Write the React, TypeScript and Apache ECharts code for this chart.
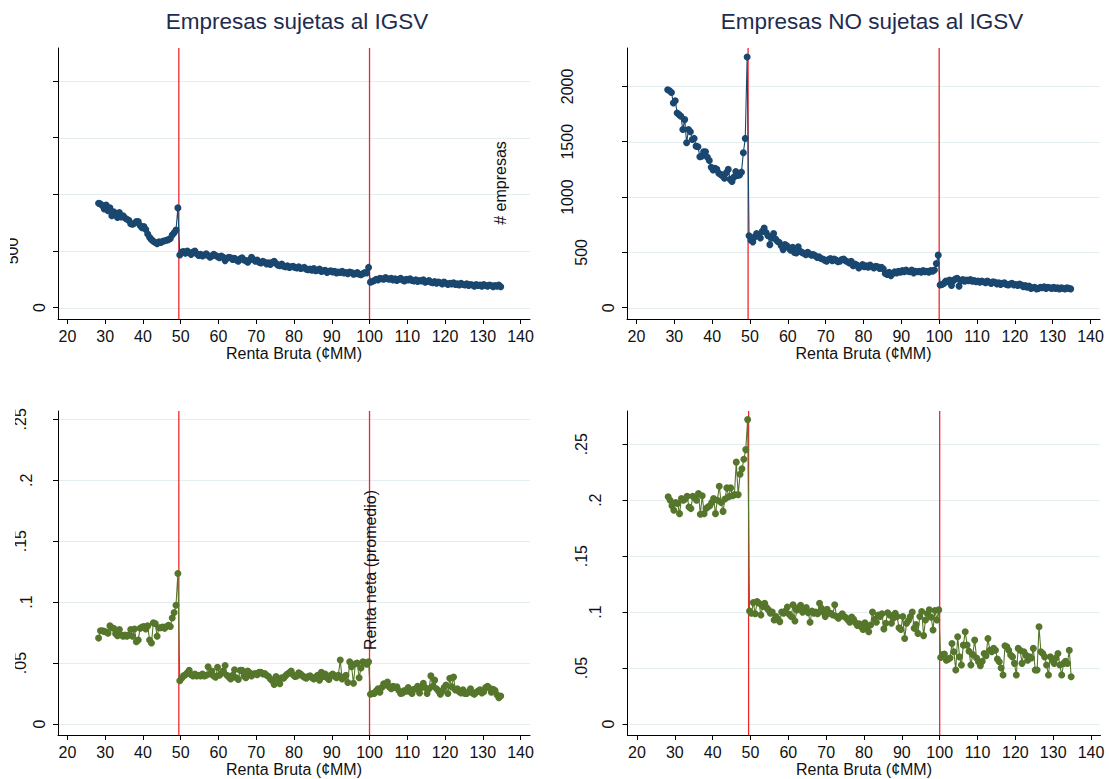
import React, { useEffect, useRef } from "react";
import * as echarts from "echarts";

// ---------- data ----------
const binStart = 28.25; // first bin of Renta Bruta (¢MM)
const binWidth = 0.5;
const xTicks = [20, 30, 40, 50, 60, 70, 80, 90, 100, 110, 120, 130, 140];
const thresholds = [49.5, 100];

const countTicks = [0, 500, 1000, 1500, 2000];
const countTickLabels = ["0", "500", "1000", "1500", "2000"];
const rentaTicks = [0, 0.05, 0.1, 0.15, 0.2, 0.25];
const rentaTickLabels = ["0", ".05", ".1", ".15", ".2", ".25"];

// # empresas — sujetas al IGSV
const empresasSujetas = [
  920, 915, 900, 870, 905, 855, 880, 810, 845, 830, 795, 840, 800, 810, 790, 780, 770, 740, 735, 745,
  760, 760, 725, 705, 715, 690, 650, 620, 600, 585, 575, 565, 580, 575, 585, 590, 595, 600, 610, 640,
  660, 685, 880,
  465, 490, 495, 480, 500, 485, 470, 490, 500, 475,
  460, 470, 455, 465, 475, 460, 445, 455, 470, 460,
  450, 440, 455, 445, 415, 435, 445, 440, 425, 435,
  420, 410, 430, 440, 420, 415, 400, 420, 445, 425,
  410, 420, 400, 395, 410, 400, 385, 395, 380, 400,
  410, 390, 375, 370, 385, 365, 360, 370, 355, 360,
  365, 355, 350, 360, 345, 350, 355, 340, 335, 340,
  330, 345, 325, 330, 340, 320, 325, 330, 310, 320,
  325, 315, 320, 305, 315, 310, 320, 305, 310, 300,
  315, 310, 295, 300, 310, 295, 290, 300, 310, 305,
  355,
  225, 230, 240, 250, 245, 260, 255, 250, 265, 255,
  250, 260, 245, 255, 240, 250, 260, 245, 235, 250,
  245, 255, 240, 235, 245, 230, 240, 235, 245, 225,
  230, 240, 225, 220, 230, 215, 225, 220, 210, 225,
  215, 205, 215, 210, 220, 205, 210, 200, 215, 205,
  200, 210, 195, 205, 200, 190, 205, 195, 200, 190,
  205, 195, 190, 200, 195, 185, 195, 190, 200, 185,
];

// # empresas — NO sujetas al IGSV
const empresasNoSujetas = [
  1970, 1960, 1945, 1850, 1870, 1760, 1745, 1730, 1610, 1700,
  1490, 1610, 1590, 1520, 1530, 1460, 1455, 1365, 1370, 1410,
  1410, 1360, 1330, 1270, 1245, 1260, 1250, 1215, 1205, 1190,
  1170, 1220, 1250, 1160, 1140, 1180, 1230, 1195, 1200, 1225,
  1400, 1530, 2265,
  650, 610, 595, 640, 670, 660, 630, 690, 720, 680,
  650, 570, 630, 670, 620, 600, 590, 560, 525, 570,
  560, 540, 520, 545, 500, 495, 550, 510, 500, 490,
  480, 500, 485, 475, 480, 470, 455, 460, 445, 440,
  430, 420, 435, 445, 425, 440, 430, 415, 420, 435,
  440, 425, 415, 405, 420, 380, 395, 385, 360, 375,
  390, 370, 380, 365, 385, 370, 360, 375, 370, 355,
  365, 350, 310, 300, 320, 290, 310, 325, 315, 330,
  320, 335, 325, 340, 330, 325, 340, 315, 330, 325,
  330, 320, 335, 325, 330, 320, 335, 330, 340, 400,
  475,
  205, 210, 220, 240, 235, 250, 200, 245, 260, 265,
  195, 245, 255, 240, 250, 245, 255, 240, 245, 235,
  240, 230, 240, 235, 225, 240, 230, 220, 235, 230,
  215, 225, 210, 220, 225, 210, 205, 215, 220, 205,
  210, 200, 215, 205, 190, 200, 185, 195, 175, 180,
  185, 170, 175, 185, 180, 190, 175, 185, 180, 175,
  185, 175, 180, 170, 180, 175, 170, 180, 175, 170,
];

// Renta neta (promedio) — sujetas al IGSV
const rentaSujetas = [
  0.0705, 0.0765, 0.0765, 0.076, 0.0755, 0.0745, 0.0805, 0.079, 0.0785, 0.074,
  0.0725, 0.0775, 0.073, 0.072, 0.073, 0.072, 0.073, 0.0775, 0.072, 0.078,
  0.0675, 0.069, 0.0785, 0.0795, 0.08, 0.078, 0.0805, 0.069, 0.0665, 0.083,
  0.0825, 0.072, 0.079, 0.079, 0.0795, 0.0785, 0.08, 0.081, 0.08, 0.087,
  0.0915, 0.0975, 0.1235,
  0.0355, 0.0375, 0.0395, 0.0405, 0.042, 0.044, 0.0405, 0.0395, 0.041, 0.0395,
  0.04, 0.0395, 0.041, 0.0395, 0.04, 0.047, 0.041, 0.0435, 0.0395, 0.0385,
  0.0465, 0.04, 0.0415, 0.0435, 0.048, 0.04, 0.0385, 0.037, 0.04, 0.0445,
  0.038, 0.0365, 0.044, 0.044, 0.0395, 0.038, 0.0435, 0.042, 0.0395, 0.041,
  0.0415, 0.0405, 0.0425, 0.0425, 0.041, 0.0415, 0.04, 0.039, 0.037, 0.0355,
  0.0325, 0.039, 0.037, 0.033, 0.038, 0.0375, 0.0395, 0.041, 0.042, 0.0435,
  0.0405, 0.039, 0.0395, 0.042, 0.041, 0.0395, 0.0385, 0.0375, 0.039, 0.0395,
  0.038, 0.037, 0.0385, 0.04, 0.036, 0.0425, 0.039, 0.041, 0.038, 0.0365,
  0.04, 0.041, 0.0395, 0.038, 0.04, 0.0525, 0.037, 0.0385, 0.04, 0.034,
  0.051, 0.047, 0.0335, 0.0495, 0.05, 0.038, 0.046, 0.051, 0.0505, 0.049,
  0.051,
  0.0245, 0.025, 0.025, 0.027, 0.029, 0.026, 0.03, 0.033, 0.032, 0.0345,
  0.0305, 0.029, 0.031, 0.03, 0.0305, 0.0275, 0.025, 0.0255, 0.0275, 0.027,
  0.03, 0.0265, 0.025, 0.0285, 0.029, 0.031, 0.0255, 0.03, 0.0335, 0.03,
  0.025, 0.029, 0.0395, 0.031, 0.036, 0.029, 0.027, 0.0245, 0.027, 0.03,
  0.032, 0.025, 0.0375, 0.0305, 0.0385, 0.028, 0.029, 0.0265, 0.0255, 0.028,
  0.025, 0.025, 0.0265, 0.029, 0.0255, 0.0245, 0.026, 0.027, 0.028, 0.0255,
  0.0265, 0.03, 0.031, 0.0295, 0.026, 0.0285, 0.0275, 0.024, 0.0215, 0.023,
];

// Renta neta (promedio) — NO sujetas al IGSV
const rentaNoSujetas = [
  0.203, 0.2, 0.195, 0.191, 0.198, 0.197, 0.188, 0.2015, 0.2, 0.201,
  0.2036, 0.194, 0.1925, 0.2036, 0.202, 0.2, 0.206, 0.1875, 0.204, 0.188,
  0.1925, 0.194, 0.195, 0.198, 0.2015, 0.188, 0.2, 0.2125, 0.198, 0.19,
  0.201, 0.211, 0.203, 0.211, 0.204, 0.205, 0.234, 0.205, 0.2232, 0.228,
  0.2366, 0.2452, 0.272,
  0.101, 0.099, 0.1085, 0.0985, 0.1095, 0.108, 0.0975, 0.105, 0.108, 0.104,
  0.102, 0.099, 0.1, 0.093, 0.096, 0.0935, 0.0915, 0.1, 0.099, 0.101,
  0.1045, 0.098, 0.096, 0.1065, 0.092, 0.102, 0.104, 0.106, 0.1, 0.103,
  0.104, 0.0995, 0.091, 0.101, 0.099, 0.1, 0.0985, 0.108, 0.1035, 0.1,
  0.096, 0.1025, 0.099, 0.099, 0.0975, 0.1065, 0.096, 0.0945, 0.0965, 0.0985,
  0.096, 0.095, 0.093, 0.091, 0.0955, 0.0935, 0.0905, 0.088, 0.0895, 0.087,
  0.0845, 0.0905, 0.086, 0.0825, 0.0885, 0.1, 0.0935, 0.091, 0.0975, 0.096,
  0.0985, 0.085, 0.09, 0.0995, 0.0975, 0.09, 0.0945, 0.099, 0.096, 0.086,
  0.0845, 0.096, 0.0765, 0.09, 0.0925, 0.096, 0.1, 0.0855, 0.089, 0.081,
  0.096, 0.1005, 0.079, 0.093, 0.0985, 0.102, 0.0955, 0.084, 0.1015, 0.093,
  0.102,
  0.0595, 0.062, 0.0625, 0.057, 0.058, 0.059, 0.072, 0.0646, 0.0482, 0.078,
  0.06, 0.0527, 0.0705, 0.0824, 0.0705, 0.065, 0.0527, 0.062, 0.075, 0.059,
  0.0557, 0.052, 0.056, 0.0631, 0.061, 0.0765, 0.066, 0.0646, 0.0676, 0.066,
  0.058, 0.0557, 0.05, 0.0438, 0.07, 0.069, 0.066, 0.0616, 0.06, 0.0542,
  0.0438, 0.0676, 0.066, 0.0542, 0.0646, 0.0616, 0.0571, 0.06, 0.059, 0.0676,
  0.0482, 0.0482, 0.0869, 0.0646, 0.0631, 0.06, 0.0527, 0.0438, 0.0601, 0.0571,
  0.0542, 0.059, 0.0631, 0.0527, 0.0438, 0.0542, 0.056, 0.0542, 0.066, 0.0423,
];

// ---------- styles / layout ----------
const FONT = "'Liberation Sans', Arial, Helvetica, sans-serif";
const NAVY = "#1a476f";
const GREEN = "#55762b";
const RED = "#f0282e";
const GRIDC = "#e4eef0";

const panels = [
  { grid: { left: 58, top: 48, width: 472, height: 271 }, values: empresasSujetas, color: NAVY, yMin: -100, yMax: 2290, ticks: countTicks, labels: countTickLabels, labelOffset: null as null | Record<number, number>, clipX: 10 },
  { grid: { left: 627, top: 48, width: 473, height: 271 }, values: empresasNoSujetas, color: NAVY, yMin: -102, yMax: 2347, ticks: countTicks, labels: countTickLabels, labelOffset: null, clipX: 0 },
  { grid: { left: 58, top: 411, width: 472, height: 324 }, values: rentaSujetas, color: GREEN, yMin: -0.009, yMax: 0.2568, ticks: rentaTicks, labels: rentaTickLabels, labelOffset: { 1: 19, 2: 32, 3: 38 }, clipX: 15 },
  { grid: { left: 627.5, top: 411, width: 473, height: 324 }, values: rentaNoSujetas, color: GREEN, yMin: -0.0098, yMax: 0.2797, ticks: rentaTicks, labels: rentaTickLabels, labelOffset: null, clipX: 0 },
];

export default function App() {
  const ref = useRef<HTMLDivElement>(null);

  useEffect(() => {
    if (!ref.current) return;
    const chart = echarts.init(ref.current, null, { renderer: "svg" });

    const grid = panels.map((p) => p.grid);
    const xAxis = panels.map((p, k) => ({
      type: "value",
      gridIndex: k,
      min: 17.5,
      max: 142.5,
      axisLine: { show: true, onZero: false, lineStyle: { color: "#000", width: 1 } },
      axisTick: { show: true, customValues: xTicks, length: 5, lineStyle: { color: "#000" } },
      axisLabel: { show: true, customValues: xTicks, margin: 9, fontSize: 16, color: "#111", fontFamily: FONT },
      splitLine: { show: false },
      name: "Renta Bruta (¢MM)",
      nameLocation: "middle",
      nameGap: 26,
      nameTextStyle: { fontSize: 16, color: "#111", fontFamily: FONT },
    }));
    const yAxis = panels.map((p, k) => ({
      type: "value",
      gridIndex: k,
      min: p.yMin,
      max: p.yMax,
      axisLine: { show: true, onZero: false, lineStyle: { color: "#000", width: 1 } },
      axisTick: { show: true, customValues: p.ticks, length: 5, lineStyle: { color: "#000" } },
      axisLabel: { show: false, customValues: p.ticks },
      splitLine: { show: false },
    }));

    const series = panels.map((p, k) => ({
      type: "line",
      xAxisIndex: k,
      yAxisIndex: k,
      data: p.values.map((v, i) => [binStart + i * binWidth, v]),
      symbol: "circle",
      symbolSize: 7,
      showAllSymbol: true,
      itemStyle: { color: p.color },
      lineStyle: { color: p.color, width: 1.1 },
      emphasis: { disabled: true },
      z: 5,
    }));

    chart.setOption({
      animation: false,
      backgroundColor: "#fff",
      grid,
      xAxis,
      yAxis,
      series,
    });

    const graphic: any[] = [];
    const txt = (text: string, x: number, y: number, size: number, fill: string, rot = 0, z = 10) => ({
      type: "text",
      x,
      y,
      rotation: rot,
      z,
      silent: true,
      style: {
        text,
        fontSize: size,
        fontFamily: FONT,
        fill,
        align: "center",
        verticalAlign: "middle",
        textAlign: "center",
        textVerticalAlign: "middle",
      },
    });

    panels.forEach((p, k) => {
      const g = p.grid;
      const axisX = chart.convertToPixel({ xAxisIndex: k }, 17.5) as number;
      // horizontal grid lines at the y ticks
      p.ticks.forEach((v) => {
        const y = Math.round(chart.convertToPixel({ yAxisIndex: k }, v) as number) + 0.5;
        graphic.push({
          type: "line",
          z: 1,
          silent: true,
          shape: { x1: g.left + 1, y1: y, x2: g.left + g.width, y2: y },
          style: { stroke: GRIDC, lineWidth: 1 },
        });
      });
      // threshold lines
      thresholds.forEach((t) => {
        const x = chart.convertToPixel({ xAxisIndex: k }, t) as number;
        graphic.push({
          type: "line",
          z: 2,
          silent: true,
          shape: { x1: x, y1: g.top, x2: x, y2: g.top + g.height },
          style: { stroke: RED, lineWidth: 1.3 },
        });
      });
      // y tick labels (vertical)
      p.ticks.forEach((v, j) => {
        const label = p.labels[j];
        const y = chart.convertToPixel({ yAxisIndex: k }, v) as number;
        const off = p.labelOffset ? p.labelOffset[Math.min(label.length, 3)] : 5.5 + 13.4 * label.length;
        const cx = axisX - off;
        if (p.clipX > 0 && cx + 6 < p.clipX) return; // fully hidden in the reference
        graphic.push(txt(label, cx, y, 16, "#111", Math.PI / 2));
      });
      if (p.clipX > 0) {
        graphic.push({
          type: "rect",
          z: 20,
          silent: true,
          shape: { x: 0, y: g.top - 8, width: p.clipX, height: g.height + 16 },
          style: { fill: "#fff" },
        });
      }
    });

    graphic.push(txt("Empresas sujetas al IGSV", 297, 21, 22.5, "#1f2c4f"));
    graphic.push(txt("Empresas NO sujetas al IGSV", 872, 21, 22.5, "#1f2c4f"));
    graphic.push(txt("# empresas", 500, 183, 16, "#111", Math.PI / 2));
    graphic.push(txt("Renta neta (promedio)", 370, 570, 16, "#111", Math.PI / 2));

    chart.setOption({ graphic });

    return () => chart.dispose();
  }, []);

  return (
    <div
      ref={ref}
      style={{ position: "fixed", left: 0, top: 0, width: 1109, height: 779, background: "#fff" }}
    />
  );
}
